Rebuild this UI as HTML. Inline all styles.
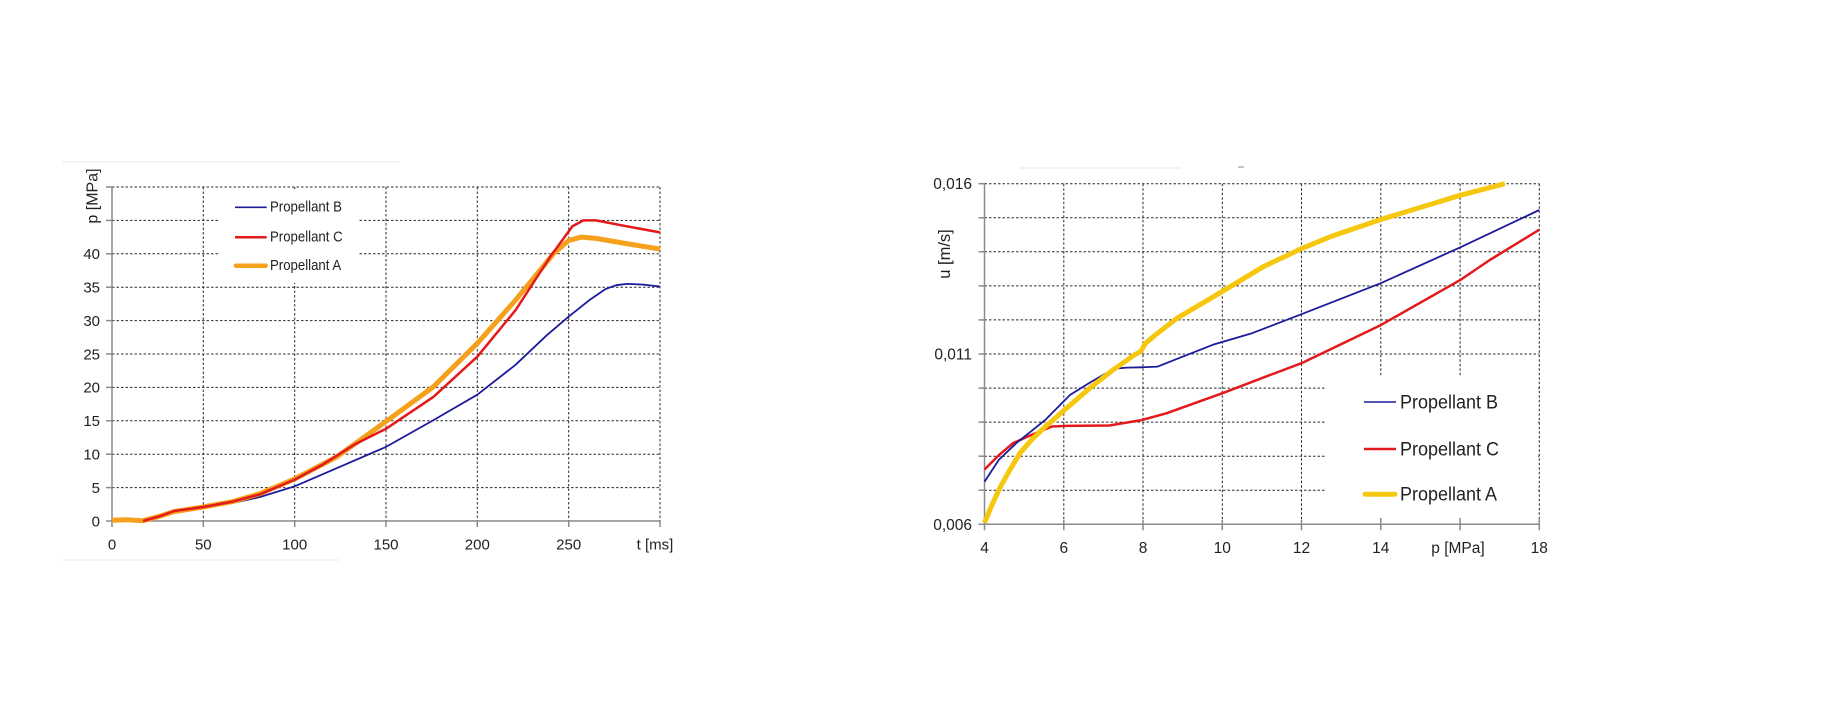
<!DOCTYPE html>
<html>
<head>
<meta charset="utf-8">
<style>
  html,body{margin:0;padding:0;background:#fff;}
  svg{display:block;}
  text{font-family:"Liberation Sans", Arial, sans-serif; fill:#222;}
</style>
</head>
<body>
<svg width="1834" height="726" viewBox="0 0 1834 726" xmlns="http://www.w3.org/2000/svg">
  <rect width="1834" height="726" fill="#fff"/>

  <!-- faint artifacts -->
  <line x1="62" y1="162" x2="400" y2="162" stroke="#f3f3f3" stroke-width="2"/>
  <line x1="62" y1="560" x2="340" y2="560" stroke="#f5f5f5" stroke-width="2"/>
  <line x1="1020" y1="168" x2="1180" y2="168" stroke="#f3f3f3" stroke-width="2"/>
  <line x1="1238" y1="167" x2="1244" y2="167" stroke="#888" stroke-width="1"/>

  <!-- ================= LEFT CHART ================= -->
  <g stroke="#2a2a2a" stroke-width="1" stroke-dasharray="2.5,2" fill="none">
    <!-- horizontal grid: 5..50 -->
    <line x1="112" y1="487.6" x2="660" y2="487.6"/>
    <line x1="112" y1="454.2" x2="660" y2="454.2"/>
    <line x1="112" y1="420.8" x2="660" y2="420.8"/>
    <line x1="112" y1="387.4" x2="660" y2="387.4"/>
    <line x1="112" y1="354" x2="660" y2="354"/>
    <line x1="112" y1="320.6" x2="660" y2="320.6"/>
    <line x1="112" y1="287.2" x2="660" y2="287.2"/>
    <line x1="112" y1="253.8" x2="660" y2="253.8"/>
    <line x1="112" y1="220.4" x2="660" y2="220.4"/>
    <line x1="112" y1="187" x2="660" y2="187"/>
    <!-- vertical grid: 50..300 -->
    <line x1="203.3" y1="187" x2="203.3" y2="521"/>
    <line x1="294.7" y1="187" x2="294.7" y2="521"/>
    <line x1="386" y1="187" x2="386" y2="521"/>
    <line x1="477.3" y1="187" x2="477.3" y2="521"/>
    <line x1="568.7" y1="187" x2="568.7" y2="521"/>
    <line x1="660" y1="187" x2="660" y2="521"/>
  </g>
  <!-- legend box left -->
  <rect x="218" y="189" width="140" height="94" fill="#fff"/>

  <!-- axes left -->
  <g stroke="#8a8a8a" stroke-width="1.5">
    <line x1="112" y1="187" x2="112" y2="521"/>
    <line x1="112" y1="521" x2="660" y2="521"/>
    <line x1="106" y1="521" x2="112" y2="521"/>
    <line x1="106" y1="487.6" x2="112" y2="487.6"/>
    <line x1="106" y1="454.2" x2="112" y2="454.2"/>
    <line x1="106" y1="420.8" x2="112" y2="420.8"/>
    <line x1="106" y1="387.4" x2="112" y2="387.4"/>
    <line x1="106" y1="354" x2="112" y2="354"/>
    <line x1="106" y1="320.6" x2="112" y2="320.6"/>
    <line x1="106" y1="287.2" x2="112" y2="287.2"/>
    <line x1="106" y1="253.8" x2="112" y2="253.8"/>
    <line x1="106" y1="220.4" x2="112" y2="220.4"/>
    <line x1="106" y1="187" x2="112" y2="187"/>
    <line x1="112" y1="521" x2="112" y2="527"/>
    <line x1="203.3" y1="521" x2="203.3" y2="527"/>
    <line x1="294.7" y1="521" x2="294.7" y2="527"/>
    <line x1="386" y1="521" x2="386" y2="527"/>
    <line x1="477.3" y1="521" x2="477.3" y2="527"/>
    <line x1="568.7" y1="521" x2="568.7" y2="527"/>
    <line x1="660" y1="521" x2="660" y2="527"/>
  </g>

  <!-- left data -->
  <polyline fill="none" stroke="#1b1b9c" stroke-width="1.8" stroke-linejoin="round"
    points="112,521 143.1,521 159.5,517 174.1,512.3 203.3,507.6 232.6,503 260,497 294.7,486.3 336.7,468.2 386,446.9 433.5,420.1 477.3,394.7 515.7,364.7 546.7,335.3 568.7,316.6 590.6,299.2 605.2,289.2 616.2,285.2 627.1,283.9 641.7,284.5 660,286.5"/>
  <polyline fill="none" stroke="#f5a11c" stroke-width="5" stroke-linejoin="round"
    points="112,520.3 126.6,519.7 143.1,520.7 159.5,516.3 174.1,511.6 203.3,507 232.6,501.6 260,493.6 294.7,478.9 336.7,456.9 386,421.5 433.5,386.7 477.3,343.3 515.7,299.9 554.1,253.1 568.7,240.4 581.5,237.1 596.1,238.4 623.5,243.1 660,249.1"/>
  <polyline fill="none" stroke="#e3191c" stroke-width="2.5" stroke-linejoin="round"
    points="143.1,521 159.5,516.3 174.1,511 203.3,507 232.6,501.6 260,494.3 294.7,479.6 322.1,464.9 355,444.2 386,428.8 433.5,396.8 477.3,356.7 515.7,309.9 550.4,256.5 572.3,226.4 583.3,220.4 596.1,220.4 623.5,225.7 660,232.4"/>

  <!-- left legend -->
  <line x1="235" y1="207.3" x2="266.7" y2="207.3" stroke="#1b1b9c" stroke-width="1.6"/>
  <line x1="235" y1="237.3" x2="266.7" y2="237.3" stroke="#e3191c" stroke-width="2.5"/>
  <line x1="236" y1="265.7" x2="265.7" y2="265.7" stroke="#f5a11c" stroke-width="4.5" stroke-linecap="round"/>
  <text transform="translate(270,211.7) scale(1,1.13)" font-size="13.2">Propellant B</text>
  <text transform="translate(270,241.7) scale(1,1.13)" font-size="13.2">Propellant C</text>
  <text transform="translate(270,270.1) scale(1,1.13)" font-size="13.2">Propellant A</text>

  <!-- left tick labels -->
  <g font-size="15" text-anchor="end">
    <text x="100" y="526.3">0</text>
    <text x="100" y="492.9">5</text>
    <text x="100" y="459.5">10</text>
    <text x="100" y="426.1">15</text>
    <text x="100" y="392.7">20</text>
    <text x="100" y="359.3">25</text>
    <text x="100" y="325.9">30</text>
    <text x="100" y="292.5">35</text>
    <text x="100" y="259.1">40</text>
  </g>
  <g font-size="15" text-anchor="middle">
    <text x="112" y="549.3">0</text>
    <text x="203.3" y="549.3">50</text>
    <text x="294.7" y="549.3">100</text>
    <text x="386" y="549.3">150</text>
    <text x="477.3" y="549.3">200</text>
    <text x="568.7" y="549.3">250</text>
    <text x="655" y="549.3">t [ms]</text>
  </g>
  <text transform="translate(97.5,196) rotate(-90)" font-size="16" text-anchor="middle">p [MPa]</text>

  <!-- ================= RIGHT CHART ================= -->
  <g stroke="#2a2a2a" stroke-width="1" stroke-dasharray="2.5,2" fill="none">
    <line x1="984.5" y1="490.2" x2="1539.3" y2="490.2"/>
    <line x1="984.5" y1="456.2" x2="1539.3" y2="456.2"/>
    <line x1="984.5" y1="422.1" x2="1539.3" y2="422.1"/>
    <line x1="984.5" y1="388.1" x2="1539.3" y2="388.1"/>
    <line x1="984.5" y1="354" x2="1539.3" y2="354"/>
    <line x1="984.5" y1="319.9" x2="1539.3" y2="319.9"/>
    <line x1="984.5" y1="285.9" x2="1539.3" y2="285.9"/>
    <line x1="984.5" y1="251.8" x2="1539.3" y2="251.8"/>
    <line x1="984.5" y1="217.8" x2="1539.3" y2="217.8"/>
    <line x1="984.5" y1="183.7" x2="1539.3" y2="183.7"/>
    <line x1="1063.8" y1="183.7" x2="1063.8" y2="524.3"/>
    <line x1="1143" y1="183.7" x2="1143" y2="524.3"/>
    <line x1="1222.3" y1="183.7" x2="1222.3" y2="524.3"/>
    <line x1="1301.5" y1="183.7" x2="1301.5" y2="524.3"/>
    <line x1="1380.8" y1="183.7" x2="1380.8" y2="524.3"/>
    <line x1="1460.1" y1="183.7" x2="1460.1" y2="524.3"/>
    <line x1="1539.3" y1="183.7" x2="1539.3" y2="524.3"/>
  </g>
  <!-- legend box right -->
  <rect x="1325" y="377" width="211" height="142" fill="#fff"/>

  <!-- axes right -->
  <g stroke="#8a8a8a" stroke-width="1.5">
    <line x1="984.5" y1="183.7" x2="984.5" y2="524.3"/>
    <line x1="984.5" y1="524.3" x2="1539.3" y2="524.3"/>
    <line x1="978.5" y1="183.7" x2="984.5" y2="183.7"/>
    <line x1="978.5" y1="217.8" x2="984.5" y2="217.8"/>
    <line x1="978.5" y1="251.8" x2="984.5" y2="251.8"/>
    <line x1="978.5" y1="285.9" x2="984.5" y2="285.9"/>
    <line x1="978.5" y1="319.9" x2="984.5" y2="319.9"/>
    <line x1="978.5" y1="354" x2="984.5" y2="354"/>
    <line x1="978.5" y1="388.1" x2="984.5" y2="388.1"/>
    <line x1="978.5" y1="422.1" x2="984.5" y2="422.1"/>
    <line x1="978.5" y1="456.2" x2="984.5" y2="456.2"/>
    <line x1="978.5" y1="490.2" x2="984.5" y2="490.2"/>
    <line x1="978.5" y1="524.3" x2="984.5" y2="524.3"/>
    <line x1="984.5" y1="524.3" x2="984.5" y2="530.3"/>
    <line x1="1063.8" y1="520" x2="1063.8" y2="530.3"/>
    <line x1="1143" y1="520" x2="1143" y2="530.3"/>
    <line x1="1222.3" y1="520" x2="1222.3" y2="530.3"/>
    <line x1="1301.5" y1="520" x2="1301.5" y2="530.3"/>
    <line x1="1380.8" y1="518" x2="1380.8" y2="530.3"/>
    <line x1="1460.1" y1="518" x2="1460.1" y2="530.3"/>
    <line x1="1539.3" y1="518" x2="1539.3" y2="530.3"/>
  </g>

  <!-- right data -->
  <polyline fill="none" stroke="#e3191c" stroke-width="2.5" stroke-linejoin="round"
    points="984.5,469.5 998.8,455.2 1013,443.2 1030.9,435.1 1051.9,426.5 1066.5,425.9 1109.3,425.5 1141.4,420.1 1166.4,413.3 1223.5,392.8 1269.8,375.1 1301.5,363.2 1380.8,325.1 1460.1,280.1 1489.8,260 1539.3,229.7"/>
  <polyline fill="none" stroke="#1b1b9c" stroke-width="1.8" stroke-linejoin="round"
    points="984.5,481.7 998.8,459.9 1016.2,443.2 1045.1,420.1 1070.1,394.9 1091.5,381.6 1105.8,373.4 1118.1,368.3 1127.2,367.6 1141.4,367.3 1157.7,366.6 1180.7,357.4 1212.8,344.8 1252,333.2 1301.5,314.2 1380.8,283.2 1460.1,247.4 1539.3,210"/>
  <polyline fill="none" stroke="#f5c70f" stroke-width="5" stroke-linejoin="round"
    points="984.5,522.6 992.4,503.9 1000.4,486.8 1009.9,469.8 1020.2,452.8 1032.1,439.2 1044,427.9 1064.6,409.9 1091.5,386.7 1112.9,370 1134.3,355 1141,351.3 1145,343.8 1154.9,335.3 1177.1,318.2 1221.9,291.7 1263.1,266.8 1302,248.4 1330.1,236.8 1380.8,219.5 1460.1,195.3 1504.9,183.7"/>

  <!-- right legend -->
  <line x1="1364" y1="402" x2="1396" y2="402" stroke="#1b1b9c" stroke-width="1.6"/>
  <line x1="1364" y1="449" x2="1396" y2="449" stroke="#e3191c" stroke-width="2.5"/>
  <line x1="1365" y1="494.3" x2="1395" y2="494.3" stroke="#f5c70f" stroke-width="5" stroke-linecap="round"/>
  <text transform="translate(1400,408.3) scale(1,1.1)" font-size="18">Propellant B</text>
  <text transform="translate(1400,455.3) scale(1,1.1)" font-size="18">Propellant C</text>
  <text transform="translate(1400,500.6) scale(1,1.1)" font-size="18">Propellant A</text>

  <!-- right tick labels -->
  <g font-size="15.5" text-anchor="end">
    <text x="972" y="189.2">0,016</text>
    <text x="972" y="359.5">0,011</text>
    <text x="972" y="529.8">0,006</text>
  </g>
  <g font-size="15.5" text-anchor="middle">
    <text x="984.5" y="553">4</text>
    <text x="1063.8" y="553">6</text>
    <text x="1143" y="553">8</text>
    <text x="1222.3" y="553">10</text>
    <text x="1301.5" y="553">12</text>
    <text x="1380.8" y="553">14</text>
    <text x="1458" y="553">p [MPa]</text>
    <text x="1539.3" y="553">18</text>
  </g>
  <text transform="translate(950,254) rotate(-90)" font-size="16.5" text-anchor="middle">u [m/s]</text>
</svg>
</body>
</html>
